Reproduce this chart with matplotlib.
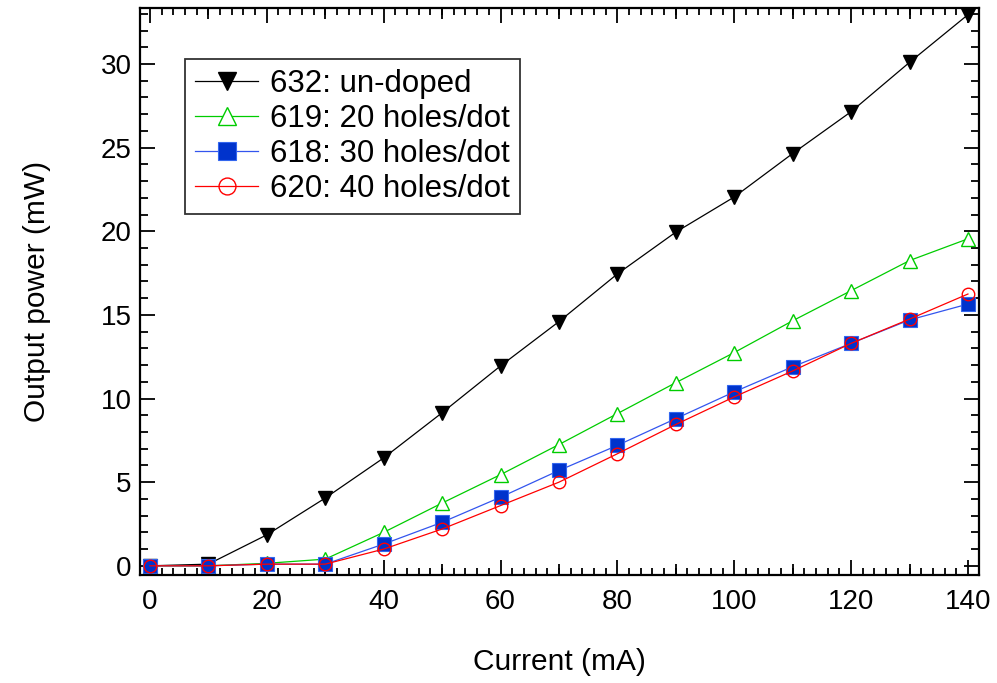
import numpy as np
import matplotlib
matplotlib.use('Agg')
import matplotlib.pyplot as plt
from matplotlib.ticker import MultipleLocator

plt.rcParams['font.family'] = ['Liberation Sans', 'DejaVu Sans']

# data
current = [0, 10, 20, 30, 40, 50, 60, 70, 80, 90, 100, 110, 120, 130, 140]
p_632 = [0.0, 0.1, 1.85, 4.05, 6.45, 9.15, 11.95, 14.6, 17.45, 19.95, 22.05, 24.65, 27.15, 30.1, 32.95]
p_619 = [0.0, 0.0, 0.15, 0.4, 2.0, 3.75, 5.45, 7.25, 9.1, 10.95, 12.75, 14.65, 16.45, 18.25, 19.55]
p_618 = [0.0, 0.0, 0.1, 0.1, 1.3, 2.6, 4.1, 5.7, 7.2, 8.8, 10.4, 11.9, 13.3, 14.7, 15.65]
p_620 = [0.0, 0.0, 0.1, 0.1, 1.0, 2.2, 3.6, 5.0, 6.7, 8.45, 10.1, 11.65, 13.3, 14.75, 16.25]
labels = ['632: un-doped', '619: 20 holes/dot', '618: 30 holes/dot', '620: 40 holes/dot']

fig = plt.figure(figsize=(9.97, 6.83), dpi=100)
ax = fig.add_axes([0.1404, 0.1581, 0.8416, 0.8302])

ax.plot(current, p_632, color='black', lw=0.9, marker='v', ms=10,
        mfc='black', mec='black', label=labels[0])
ax.plot(current, p_619, color='#00cc00', lw=0.9, marker='^', ms=10,
        mfc='white', mec='#00cc00', mew=1.0, label=labels[1])
ax.plot(current, p_618, color='#3355ee', lw=0.9, marker='s', ms=10,
        mfc='#0033cc', mec='#3366ee', mew=0.8, label=labels[2])
ax.plot(current, p_620, color='#ff0000', lw=0.9, marker='o', ms=9,
        mfc='none', mec='#ff0000', mew=1.0, label=labels[3])

ax.set_xlim(-1.7, 141.9)
ax.set_ylim(-0.55, 33.35)

ax.xaxis.set_major_locator(MultipleLocator(20))
ax.xaxis.set_minor_locator(MultipleLocator(2))
ax.yaxis.set_major_locator(MultipleLocator(5))
ax.yaxis.set_minor_locator(MultipleLocator(1))
ax.tick_params(which='both', direction='in', top=True, right=True, width=1.3)
ax.tick_params(which='major', length=11)
ax.tick_params(which='minor', length=5)
ax.tick_params(axis='x', which='major', pad=10, labelsize=20)
ax.tick_params(axis='y', which='major', pad=6, labelsize=20)
ax.tick_params(axis='y', which='minor', length=6)

# medium ticks every 10 mA
for side in ['bottom', 'top']:
    sec = ax.secondary_xaxis(side)
    sec.set_xticks([10, 30, 50, 70, 90, 110, 130])
    sec.tick_params(direction='in', length=8, width=1.3, labelbottom=False,
                    labeltop=False)
    sec.spines[side].set_visible(False)

for sp in ax.spines.values():
    sp.set_linewidth(1.6)

ax.set_xlabel('Current (mA)', fontsize=21.5, labelpad=24)
ax.set_ylabel('Output power (mW)', fontsize=21.5, labelpad=36)

leg = ax.legend(loc='upper left', bbox_to_anchor=(0.054, 0.91), borderaxespad=0,
                fontsize=22.5, frameon=True, fancybox=False, markerscale=1.35,
                handlelength=2.0, handletextpad=0.4, labelspacing=0.16,
                borderpad=0.32)
leg.get_frame().set_edgecolor('black')
leg.get_frame().set_linewidth(1.3)

fig.savefig('out.png', dpi=100)
